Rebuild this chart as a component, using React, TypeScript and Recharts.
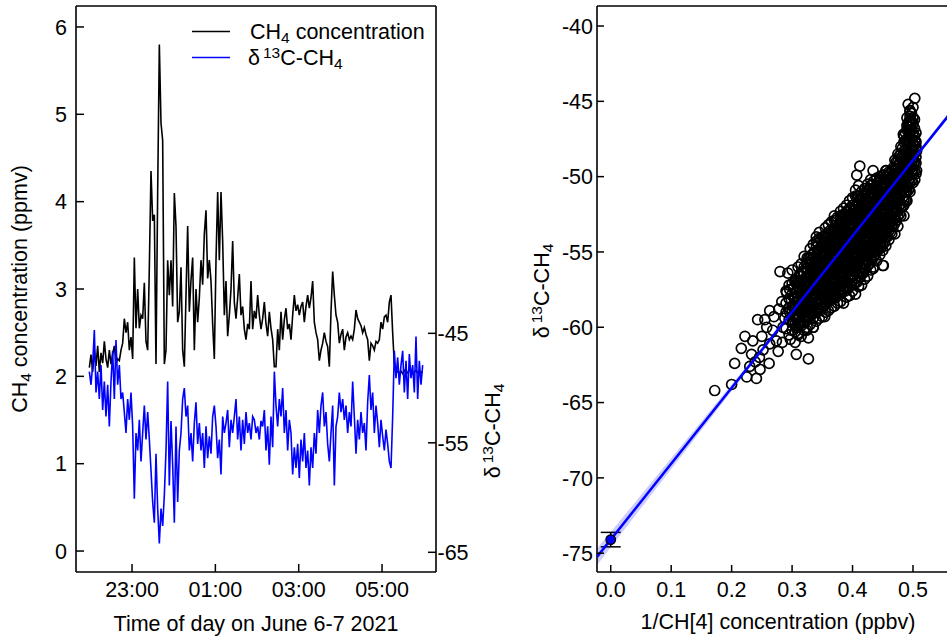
import React from "react";
import {
  LineChart,
  Line,
  XAxis,
  YAxis,
  ReferenceLine,
  ComposedChart,
  Scatter,
  Area,
  ErrorBar,
} from "recharts";

const FONT = '"Liberation Sans", Arial, Helvetica, sans-serif';
const FS = 21.5;
const SUB = 15.5;

// ---- left panel: time series, sampled every 2.4 min from 21:58 ----
const T0 = 21.975;
const STEP = 0.04;
const timeTicks = [23, 25, 27, 29];
const ch4Ticks = [0, 1, 2, 3, 4, 5, 6];
const d13Ticks = [-65, -55, -45];

const ch4Values = [
  2.1, 2.25, 2.05, 2.3, 2.12, 2.35,
  2.05, 2.27, 2.15, 2.4, 2.2, 2.1,
  2.3, 2.14, 2.25, 2.35, 2.14, 2.2,
  2.18, 2.3, 2.38, 2.66, 2.5, 2.62,
  2.3, 2.45, 2.2, 3.36, 2.55, 3.0,
  2.55, 2.7, 2.66, 3.07, 2.4, 2.3,
  3.25, 4.35, 3.78, 3.85, 2.14, 4.11,
  5.8, 4.9, 4.7, 2.14, 2.3, 3.33,
  2.93, 3.33, 2.8, 4.1, 3.72, 2.62,
  2.74, 3.25, 2.3, 2.11, 2.93, 3.72,
  2.74, 3.1, 3.36, 2.3, 3.0, 2.62,
  2.9, 3.33, 3.05, 3.63, 3.9, 3.12,
  3.33, 3.09, 2.6, 2.2, 3.33, 4.11,
  3.33, 4.11, 3.55, 2.7, 3.09, 2.46,
  2.7, 3.0, 3.55, 2.85, 2.66, 2.9,
  3.17, 2.7, 2.8, 2.54, 2.42, 2.6,
  2.54, 3.09, 2.54, 2.75, 2.66, 2.93,
  2.7, 2.54, 2.66, 2.85, 2.6, 2.46,
  2.74, 2.55, 2.42, 2.11, 2.11, 2.54,
  2.3, 2.74, 2.42, 2.65, 2.78, 2.54,
  2.6, 2.42, 2.7, 2.93, 2.75, 2.82,
  2.7, 2.8, 2.85, 2.62, 2.8, 2.93,
  2.78, 2.9, 3.09, 2.62, 2.5, 2.42,
  2.18, 2.3, 2.38, 2.5, 2.4, 2.34,
  2.11, 2.74, 3.2, 2.93, 2.7, 2.62,
  2.38, 2.48, 2.54, 2.3, 2.45, 2.5,
  2.42, 2.46, 2.42, 2.54, 2.76, 2.66,
  2.62, 2.58, 2.5, 2.56, 2.48, 2.42,
  2.18, 2.38, 2.35, 2.3, 2.4, 2.38,
  2.42, 2.62, 2.54, 2.68, 2.7, 2.62,
  2.85, 2.93, 2.5, 2.14, 2.08, 2.05,
  2.04, 2.06, 2.03, 2.07, 2.05, 2.04,
  2.08, 2.06, 2.03, 2.05, 2.07, 2.04,
  2.06, 2.05, 2.04,
];

const d13Values = [
  -48.5, -49.7, -47.9, -44.7, -50.4, -48.5,
  -51.0, -47.9, -52.0, -49.4, -52.6, -49.7,
  -53.5, -49.4, -46.6, -51.0, -45.6, -49.7,
  -47.9, -51.0, -50.4, -52.2, -54.1, -51.0,
  -52.9, -50.4, -53.5, -60.1, -54.1, -55.7,
  -52.9, -56.7, -54.1, -51.6, -54.7, -52.2,
  -54.7, -57.5, -60.4, -62.3, -56.0, -61.0,
  -64.2, -61.0, -62.6, -59.8, -55.7, -49.4,
  -58.9, -53.0, -57.0, -62.3, -53.5, -60.4,
  -55.7, -54.1, -51.0, -50.0, -52.6, -51.6,
  -55.7, -54.1, -56.7, -53.2, -51.3, -55.1,
  -53.2, -55.7, -54.1, -57.3, -53.5, -56.4,
  -54.4, -56.0, -52.6, -51.6, -53.5, -56.4,
  -54.7, -57.9, -52.6, -54.1, -53.2, -52.0,
  -55.4, -52.9, -54.1, -52.6, -51.0, -54.7,
  -52.6, -55.7, -52.9, -55.1, -52.2, -54.1,
  -53.2, -54.7, -52.6, -52.9, -54.1, -53.5,
  -54.7, -53.0, -53.5, -52.0, -55.7, -53.5,
  -57.0, -52.6, -55.4, -48.5, -51.6, -53.5,
  -51.0, -52.6, -50.0, -54.1, -52.0, -55.7,
  -52.9, -54.1, -57.9, -55.4, -57.3, -55.1,
  -58.2, -54.7, -56.7, -54.1, -57.3, -55.7,
  -58.9, -55.4, -57.3, -54.1, -56.0, -52.0,
  -54.1, -51.6, -50.4, -53.5, -52.2, -55.1,
  -56.7, -54.1, -51.6, -58.9, -53.5, -52.6,
  -50.4, -52.2, -51.0, -52.9, -51.6, -54.1,
  -52.2, -53.5, -49.4, -52.6, -56.0, -52.9,
  -54.7, -52.2, -54.1, -53.2, -55.7, -51.3,
  -48.8, -52.0, -50.4, -54.1, -51.6, -53.2,
  -55.4, -52.9, -54.4, -55.7, -53.8, -55.1,
  -56.7, -57.3, -52.6, -46.6, -49.1, -47.2,
  -49.7, -47.9, -46.6, -50.4, -47.5, -51.0,
  -46.9, -49.1, -47.9, -50.4, -45.3, -51.0,
  -47.5, -49.7, -47.9,
];

// ---- right panel: delta13C vs 1/CH4 ----
const invTicks = [0, 0.1, 0.2, 0.3, 0.4, 0.5];
const deltaTicks = [-75, -70, -65, -60, -55, -50, -45, -40];

// columns of the dense cloud: [1/CH4, list of delta values]
const cloudColumns: [number, number[]][] = [
  [0.29, [-60.1, -59.0, -58.4, -57.6]],
  [0.295, [-60.5, -59.5, -58.7, -58.1, -57.2]],
  [0.3, [-60.2, -59.7, -58.9, -58.6, -57.8, -57.1, -56.2]],
  [0.305, [-61.0, -60.3, -59.8, -59.1, -58.8, -58.1, -57.7, -56.9]],
  [0.31, [-60.5, -59.9, -59.2, -58.9, -58.3, -58.0, -57.3, -56.9, -56.0]],
  [0.315, [-60.6, -59.9, -59.6, -58.9, -58.6, -58.0, -57.7, -57.0, -56.6, -55.8]],
  [0.32, [-60.2, -59.6, -59.3, -58.7, -58.4, -57.8, -57.5, -57.1, -56.4, -56.0, -55.3]],
  [0.325, [-60.0, -59.5, -58.9, -58.6, -58.1, -57.9, -57.3, -57.0, -56.3, -56.1, -55.4]],
  [0.33, [-59.8, -59.1, -58.8, -58.3, -58.1, -57.5, -57.3, -56.7, -56.4, -55.7, -55.4, -54.8]],
  [0.335, [-60.0, -59.4, -58.7, -58.5, -57.9, -57.7, -57.1, -56.9, -56.3, -56.1, -55.4, -55.1, -54.5]],
  [0.34, [-59.6, -59.0, -58.7, -58.1, -57.9, -57.3, -57.1, -56.5, -56.3, -55.7, -55.4, -54.7, -54.3]],
  [0.345, [-59.4, -58.9, -58.3, -58.1, -57.5, -57.3, -56.7, -56.5, -55.9, -55.7, -55.1, -54.8, -54.1, -53.7]],
  [0.35, [-59.3, -58.6, -58.3, -57.7, -57.5, -56.9, -56.7, -56.1, -55.9, -55.3, -55.1, -54.5, -54.0]],
  [0.355, [-59.0, -58.4, -58.1, -57.5, -57.3, -56.7, -56.5, -55.9, -55.7, -55.1, -54.9, -54.3, -54.1, -53.4]],
  [0.36, [-58.9, -58.2, -57.9, -57.3, -57.1, -56.5, -56.3, -55.7, -55.5, -54.9, -54.7, -54.1, -53.9, -53.2]],
  [0.365, [-58.7, -58.0, -57.7, -57.1, -56.9, -56.3, -56.1, -55.5, -55.3, -54.7, -54.5, -53.9, -53.7, -53.0]],
  [0.37, [-58.6, -57.9, -57.6, -56.9, -56.7, -56.1, -55.9, -55.3, -55.1, -54.5, -54.3, -53.7, -53.5, -52.9, -52.6]],
  [0.375, [-58.4, -57.7, -57.4, -56.8, -56.6, -56.0, -55.8, -55.2, -55.0, -54.4, -54.2, -53.6, -53.4, -52.7]],
  [0.38, [-58.3, -57.6, -57.3, -56.7, -56.5, -55.9, -55.7, -55.1, -54.9, -54.3, -54.1, -53.5, -53.3, -52.6, -52.3]],
  [0.385, [-58.4, -57.5, -57.1, -56.5, -56.3, -55.7, -55.5, -54.9, -54.7, -54.1, -53.9, -53.3, -53.1, -52.5, -52.1]],
  [0.39, [-58.0, -57.3, -57.0, -56.3, -56.1, -55.5, -55.3, -54.7, -54.5, -53.9, -53.7, -53.1, -52.9, -52.3, -51.9]],
  [0.395, [-57.9, -57.1, -56.8, -56.1, -55.9, -55.3, -55.1, -54.5, -54.3, -53.7, -53.5, -52.9, -52.7, -52.1, -51.6]],
  [0.4, [-57.6, -56.9, -56.6, -55.9, -55.7, -55.1, -54.9, -54.3, -54.1, -53.5, -53.3, -52.7, -52.5, -51.9, -51.4]],
  [0.405, [-57.8, -57.0, -56.3, -56.0, -55.4, -55.2, -54.6, -54.4, -53.8, -53.6, -53.0, -52.8, -52.2, -52.0, -51.3, -50.9]],
  [0.41, [-57.3, -56.6, -56.3, -55.6, -55.4, -54.8, -54.6, -54.0, -53.8, -53.2, -53.0, -52.4, -52.2, -51.6, -51.3, -50.6]],
  [0.415, [-57.2, -56.4, -56.1, -55.4, -55.2, -54.6, -54.4, -53.8, -53.6, -53.0, -52.8, -52.2, -52.0, -51.4, -51.0]],
  [0.42, [-56.8, -56.1, -55.8, -55.2, -55.0, -54.4, -54.2, -53.6, -53.4, -52.8, -52.6, -52.0, -51.8, -51.2, -50.8]],
  [0.425, [-56.6, -55.9, -55.6, -55.0, -54.8, -54.2, -54.0, -53.4, -53.2, -52.6, -52.4, -51.8, -51.6, -50.9, -50.5]],
  [0.43, [-56.2, -55.5, -55.3, -54.7, -54.5, -53.9, -53.7, -53.1, -52.9, -52.3, -52.1, -51.5, -51.3, -50.6, -50.2]],
  [0.435, [-56.0, -55.3, -55.0, -54.4, -54.2, -53.6, -53.4, -52.8, -52.6, -52.0, -51.8, -51.2, -50.9, -50.3]],
  [0.44, [-55.6, -54.9, -54.7, -54.1, -53.9, -53.3, -53.1, -52.5, -52.3, -51.7, -51.5, -50.9, -50.6, -50.1]],
  [0.445, [-55.2, -54.6, -54.4, -53.8, -53.6, -53.0, -52.8, -52.2, -52.0, -51.4, -51.2, -50.6, -50.2]],
  [0.45, [-55.9, -54.9, -54.5, -53.9, -53.7, -53.1, -52.9, -52.3, -52.1, -51.5, -51.3, -50.7, -50.4, -49.9]],
  [0.455, [-54.6, -54.0, -53.8, -53.2, -53.0, -52.4, -52.2, -51.6, -51.4, -50.8, -50.6, -50.0, -49.6]],
  [0.46, [-54.2, -53.6, -53.4, -52.8, -52.6, -52.0, -51.8, -51.2, -51.0, -50.4, -50.2, -49.7]],
  [0.465, [-53.8, -53.2, -53.0, -52.4, -52.2, -51.6, -51.4, -50.8, -50.6, -50.0, -49.6]],
  [0.47, [-53.8, -53.1, -52.8, -52.2, -52.0, -51.4, -51.2, -50.6, -50.4, -49.8, -49.5, -48.9]],
  [0.475, [-53.3, -52.6, -52.3, -51.7, -51.5, -50.9, -50.7, -50.1, -49.9, -49.3, -49.0, -48.5]],
  [0.48, [-52.6, -52.0, -51.8, -51.2, -51.0, -50.4, -50.2, -49.6, -49.4, -48.8, -48.5, -48.0]],
  [0.485, [-52.6, -51.9, -51.6, -51.0, -50.7, -50.1, -49.9, -49.3, -49.1, -48.5, -48.3, -47.7, -47.3]],
  [0.49, [-51.6, -51.0, -50.7, -50.1, -49.9, -49.3, -49.1, -48.5, -48.3, -47.7, -47.5, -46.9, -46.6, -46.1]],
  [0.495, [-51.0, -50.4, -50.1, -49.5, -49.3, -48.7, -48.5, -47.9, -47.7, -47.1, -46.9, -46.3, -46.0, -45.6]],
  [0.5, [-50.4, -49.8, -49.5, -48.9, -48.7, -48.1, -47.9, -47.3, -47.1, -46.5, -46.1, -45.4]],
  [0.505, [-49.8, -49.1, -48.7, -48.0, -47.7, -47.1]],
];

// points in between the columns, inside the core of the cloud
const coreColumns: [number, number[]][] = [
  [0.3025, [-59.7, -59.2, -58.6, -58.0, -57.4]],
  [0.3075, [-60.0, -59.4, -58.9, -58.3, -57.7, -57.1]],
  [0.3125, [-59.8, -59.3, -58.7, -58.1, -57.6, -57.0, -56.5]],
  [0.3175, [-59.7, -59.1, -58.5, -58.0, -57.4, -56.9, -56.3]],
  [0.3225, [-59.5, -58.9, -58.4, -57.8, -57.2, -56.7, -56.1]],
  [0.3275, [-59.3, -58.7, -58.2, -57.6, -57.0, -56.5, -55.9, -55.4]],
  [0.3325, [-59.2, -58.6, -58.0, -57.5, -56.9, -56.3, -55.8, -55.2]],
  [0.3375, [-59.0, -58.4, -57.9, -57.3, -56.7, -56.2, -55.6, -55.0]],
  [0.3425, [-58.9, -58.3, -57.7, -57.2, -56.6, -56.0, -55.5, -54.9, -54.4]],
  [0.3475, [-58.7, -58.1, -57.5, -57.0, -56.4, -55.8, -55.3, -54.7, -54.2]],
  [0.3525, [-58.6, -58.0, -57.4, -56.9, -56.3, -55.7, -55.2, -54.6, -54.0]],
  [0.3575, [-58.4, -57.8, -57.2, -56.7, -56.1, -55.5, -55.0, -54.4, -53.8]],
  [0.3625, [-58.2, -57.6, -57.0, -56.5, -55.9, -55.3, -54.8, -54.2, -53.6]],
  [0.3675, [-58.1, -57.5, -56.9, -56.4, -55.8, -55.2, -54.7, -54.1, -53.5]],
  [0.3725, [-58.0, -57.4, -56.8, -56.2, -55.7, -55.1, -54.5, -54.0, -53.4, -52.9]],
  [0.3775, [-57.8, -57.2, -56.6, -56.1, -55.5, -54.9, -54.4, -53.8, -53.2]],
  [0.3825, [-57.7, -57.1, -56.5, -56.0, -55.4, -54.8, -54.3, -53.7, -53.1, -52.6]],
  [0.3875, [-57.6, -57.0, -56.4, -55.9, -55.3, -54.7, -54.2, -53.6, -53.0, -52.5]],
  [0.3925, [-57.4, -56.8, -56.2, -55.7, -55.1, -54.5, -54.0, -53.4, -52.8, -52.3]],
  [0.3975, [-57.2, -56.6, -56.0, -55.5, -54.9, -54.3, -53.8, -53.2, -52.6, -52.1]],
  [0.4025, [-57.1, -56.5, -55.9, -55.4, -54.8, -54.2, -53.7, -53.1, -52.5, -52.0]],
  [0.4075, [-57.0, -56.4, -55.8, -55.2, -54.7, -54.1, -53.5, -53.0, -52.4, -51.8, -51.3]],
  [0.4125, [-56.7, -56.1, -55.5, -55.0, -54.4, -53.8, -53.3, -52.7, -52.1, -51.5]],
  [0.4175, [-56.4, -55.8, -55.3, -54.7, -54.1, -53.6, -53.0, -52.4, -51.9, -51.3]],
  [0.4225, [-56.1, -55.5, -55.0, -54.4, -53.8, -53.3, -52.7, -52.1, -51.6, -51.0]],
  [0.4275, [-55.8, -55.2, -54.7, -54.1, -53.5, -53.0, -52.4, -51.8, -51.3, -50.8]],
  [0.4325, [-55.5, -54.9, -54.4, -53.8, -53.2, -52.7, -52.1, -51.5, -51.0, -50.5]],
  [0.4375, [-55.2, -54.6, -54.1, -53.5, -52.9, -52.4, -51.8, -51.2, -50.7]],
  [0.4425, [-54.8, -54.3, -53.7, -53.1, -52.6, -52.0, -51.4, -50.9, -50.4]],
  [0.4475, [-54.7, -54.1, -53.6, -53.0, -52.4, -51.9, -51.3, -50.7, -50.2]],
  [0.4525, [-54.4, -53.8, -53.3, -52.7, -52.1, -51.6, -51.0, -50.4, -49.9]],
  [0.4575, [-54.0, -53.4, -52.9, -52.3, -51.7, -51.2, -50.6, -50.0]],
  [0.4625, [-53.7, -53.1, -52.6, -52.0, -51.4, -50.9, -50.3, -49.8]],
  [0.4675, [-53.3, -52.7, -52.2, -51.6, -51.0, -50.5, -49.9, -49.4]],
  [0.4725, [-52.9, -52.3, -51.8, -51.2, -50.6, -50.1, -49.5, -49.0]],
  [0.4775, [-52.5, -51.9, -51.4, -50.8, -50.2, -49.7, -49.1, -48.6]],
  [0.4825, [-52.0, -51.4, -50.9, -50.3, -49.7, -49.2, -48.6, -48.1]],
  [0.4875, [-51.6, -51.0, -50.5, -49.9, -49.3, -48.8, -48.2, -47.6, -47.1]],
  [0.4925, [-50.9, -50.3, -49.8, -49.2, -48.6, -48.1, -47.5, -46.9, -46.4]],
  [0.4975, [-50.3, -49.7, -49.2, -48.6, -48.0, -47.5, -46.9, -46.3, -45.8]],
  [0.5025, [-49.6, -49.0, -48.5, -47.9, -47.3, -46.8, -46.2]],
];

// scattered points outside the dense core: [1/CH4, delta]
const sparsePoints: [number, number][] = [
  [0.172, -64.2], [0.2, -63.8], [0.225, -63.3], [0.241, -63.4], [0.205, -62.4],
  [0.216, -61.4], [0.222, -60.6], [0.235, -60.9], [0.233, -61.8], [0.247, -62.8],
  [0.243, -59.5], [0.255, -59.5], [0.263, -58.9], [0.28, -56.3], [0.293, -56.4],
  [0.283, -58.3], [0.291, -57.7], [0.307, -61.8], [0.327, -62.1], [0.327, -60.7],
  [0.277, -61.6], [0.263, -61.1], [0.268, -60.2], [0.258, -60.0], [0.274, -60.9],
  [0.252, -61.5], [0.239, -62.3], [0.23, -62.6], [0.324, -55.7], [0.305, -57.0],
  [0.296, -57.5], [0.34, -54.0], [0.351, -54.4], [0.34, -55.2], [0.335, -56.0],
  [0.346, -56.4], [0.354, -59.3], [0.335, -60.0], [0.324, -60.2], [0.31, -60.4],
  [0.285, -60.0], [0.288, -59.4], [0.296, -59.0], [0.301, -59.3], [0.313, -59.7],
  [0.318, -58.9], [0.31, -58.0], [0.321, -57.3], [0.329, -56.6], [0.246, -62.0],
  [0.27, -59.3], [0.278, -58.8], [0.25, -60.6], [0.262, -62.4], [0.284, -61.0],
  [0.297, -60.8],
  [0.503, -44.8], [0.492, -45.2], [0.495, -45.7], [0.497, -46.5], [0.492, -46.7],
  [0.484, -47.2], [0.495, -47.4], [0.503, -47.6], [0.506, -48.3], [0.503, -49.0],
  [0.506, -49.6], [0.503, -50.2], [0.412, -49.3], [0.407, -49.9], [0.434, -49.6],
  [0.456, -49.6], [0.462, -50.2], [0.445, -50.0], [0.451, -55.9], [0.434, -56.1],
  [0.442, -54.9],
];

// Keeling fit: intercept, slope and confidence half width
const fitIntercept = -74.1;
const fitSlope = 50.4;
const bandX = [-0.0227, 0, 0.1, 0.2, 0.3, 0.4, 0.5, 0.5728];
const bandHalf = [0.55, 0.5, 0.36, 0.22, 0.12, 0.08, 0.12, 0.17];
const interceptPoint = [{ x: 0, y: -74.1, err: 0.48 }];

// ---- derived tables ----
const series = ch4Values.map((v, i) => ({ t: T0 + i * STEP, ch4: v, d13: d13Values[i] }));
const cloud = [
  ...cloudColumns.flatMap(([x, ys]) => ys.map((y) => ({ x, y }))),
  ...coreColumns.flatMap(([x, ys]) => ys.map((y) => ({ x, y }))),
  ...sparsePoints.map(([x, y]) => ({ x, y })),
];
const fitBand = bandX.map((x, i) => {
  const c = fitIntercept + fitSlope * x;
  return { x, band: [c - bandHalf[i], c + bandHalf[i]] };
});
const fitLine = [bandX[0], bandX[bandX.length - 1]].map((x) => ({ x, y: fitIntercept + fitSlope * x }));

// ---- axis ranges ----
const T_DOMAIN: [number, number] = [21.655, 30.295];
const CH4_DOMAIN: [number, number] = [-0.24, 6.24];
const D13_DOMAIN: [number, number] = [-66.8, -15.1];
const INV_DOMAIN: [number, number] = [-0.0227, 0.5728];
const DELTA_DOMAIN: [number, number] = [-76.25, -38.67];

const AXIS = { stroke: "#000", strokeWidth: 1.6 };
const txt = { fontFamily: FONT, fontSize: FS, fill: "#000" };

type Orient = "left" | "right" | "bottom";
const makeTick =
  (orient: Orient, margin: number, len: number, fmt: (v: number) => string) =>
  (props: any) => {
    const { x, y, payload } = props;
    const label = fmt(payload.value);
    if (orient === "left") {
      const ax = x + margin;
      return (
        <g>
          <line x1={ax} x2={ax + len} y1={y} y2={y} stroke="#000" strokeWidth={1.5} />
          <text x={x} y={y} dy="0.36em" textAnchor="end" {...txt}>{label}</text>
        </g>
      );
    }
    if (orient === "right") {
      const ax = x - margin;
      return (
        <g>
          <line x1={ax - len} x2={ax} y1={y} y2={y} stroke="#000" strokeWidth={1.5} />
          <text x={x} y={y} dy="0.36em" textAnchor="start" {...txt}>{label}</text>
        </g>
      );
    }
    const ay = y - margin;
    return (
      <g>
        <line x1={x} x2={x} y1={ay - len} y2={ay} stroke="#000" strokeWidth={1.5} />
        <text x={x} y={y} dy="0.71em" textAnchor="middle" {...txt}>{label}</text>
      </g>
    );
  };

const clock = (v: number) => `${String(v % 24).padStart(2, "0")}:00`;
const timeTick = makeTick("bottom", 10, 8, clock);
const ch4Tick = makeTick("left", 9, 8, (v) => String(v));
const d13Tick = makeTick("right", 1.5, 8, (v) => String(v));
const invTick = makeTick("bottom", 10, 7, (v) => v.toFixed(1));
const deltaTick = makeTick("left", 4, 7, (v) => String(v));

const Delta = ({ x, y, vertical }: { x: number; y: number; vertical?: boolean }) => (
  <text
    transform={`translate(${x},${y})${vertical ? " rotate(-90)" : ""}`}
    textAnchor={vertical ? "middle" : "start"}
    {...txt}
  >
    δ
    <tspan dx={3} dy={-7} fontSize={SUB}>13</tspan>
    <tspan dy={7}>C-CH</tspan>
    <tspan dy={4} fontSize={SUB}>4</tspan>
  </text>
);

const circle = (props: any) => (
  <circle cx={props.cx} cy={props.cy} r={5} fill="none" stroke="#000" strokeWidth={1.7} />
);
const dotFilled = (props: any) => (
  <circle cx={props.cx} cy={props.cy} r={4.8} fill="#0000FF" stroke="#000" strokeWidth={1.2} />
);
const noDot = () => <g />;

export default function App() {
  return (
    <div
      style={{
        position: "absolute",
        left: 0,
        top: 0,
        width: 947,
        height: 638,
        overflow: "hidden",
        background: "#fff",
      }}
    >
      <div style={{ position: "absolute", left: 0, top: 0 }}>
        <LineChart width={516} height={638} data={series} margin={{ top: 6, right: 0, bottom: 0, left: 0 }}>
          <XAxis
            dataKey="t"
            type="number"
            domain={T_DOMAIN}
            allowDataOverflow
            ticks={timeTicks}
            interval={0}
            height={66}
            tickSize={0}
            tickMargin={10}
            tickLine={false}
            axisLine={AXIS}
            tick={timeTick}
          />
          <YAxis
            yAxisId="ch4"
            type="number"
            domain={CH4_DOMAIN}
            allowDataOverflow
            ticks={ch4Ticks}
            interval={0}
            width={76}
            tickSize={0}
            tickMargin={9}
            tickLine={false}
            axisLine={AXIS}
            tick={ch4Tick}
          />
          <YAxis
            yAxisId="d13"
            orientation="right"
            type="number"
            domain={D13_DOMAIN}
            allowDataOverflow
            ticks={d13Ticks}
            interval={0}
            width={80}
            tickSize={0}
            tickMargin={1.5}
            tickLine={false}
            axisLine={AXIS}
            tick={d13Tick}
          />
          <ReferenceLine yAxisId="ch4" y={CH4_DOMAIN[1]} stroke="#000" strokeWidth={1.6} />
          <Line
            yAxisId="ch4"
            dataKey="ch4"
            type="linear"
            stroke="#000"
            strokeWidth={1.6}
            dot={false}
            isAnimationActive={false}
          />
          <Line
            yAxisId="d13"
            dataKey="d13"
            type="linear"
            stroke="#0000FF"
            strokeWidth={1.6}
            dot={false}
            isAnimationActive={false}
          />
        </LineChart>
      </div>

      <div style={{ position: "absolute", left: 520, top: 0 }}>
        <ComposedChart width={437} height={638} margin={{ top: 6, right: 0, bottom: 0, left: 0 }}>
          <XAxis
            dataKey="x"
            type="number"
            domain={INV_DOMAIN}
            allowDataOverflow
            ticks={invTicks}
            interval={0}
            height={66}
            tickSize={0}
            tickMargin={10}
            tickLine={false}
            axisLine={AXIS}
            tick={invTick}
          />
          <YAxis
            type="number"
            domain={DELTA_DOMAIN}
            allowDataOverflow
            ticks={deltaTicks}
            interval={0}
            width={77}
            tickSize={0}
            tickMargin={4}
            tickLine={false}
            axisLine={AXIS}
            tick={deltaTick}
          />
          <ReferenceLine y={DELTA_DOMAIN[1]} stroke="#000" strokeWidth={1.6} />
          <Area
            data={fitBand}
            dataKey="band"
            type="linear"
            stroke="none"
            fill="#0000FF"
            fillOpacity={0.2}
            isAnimationActive={false}
          />
          <Scatter data={cloud} dataKey="y" shape={circle} isAnimationActive={false} />
          {/* fit line drawn as a scatter path so it sits above the cloud */}
          <Scatter
            data={fitLine}
            dataKey="y"
            shape={noDot}
            line={{ stroke: "#0000FF", strokeWidth: 2.5 }}
            isAnimationActive={false}
          />
          <Scatter data={interceptPoint} dataKey="y" shape={dotFilled} isAnimationActive={false}>
            <ErrorBar dataKey="err" direction="y" width={10} stroke="#000" strokeWidth={1.5} />
          </Scatter>
        </ComposedChart>
      </div>

      <svg width={947} height={638} style={{ position: "absolute", left: 0, top: 0, pointerEvents: "none" }}>
        {/* legend */}
        <line x1={192} x2={230} y1={31.5} y2={31.5} stroke="#000" strokeWidth={1.5} />
        <text x={250} y={38.5} {...txt}>
          CH
          <tspan dy={4} fontSize={SUB}>4</tspan>
          <tspan dy={-4}>{" concentration"}</tspan>
        </text>
        <line x1={192} x2={230} y1={57.5} y2={57.5} stroke="#0000FF" strokeWidth={1.5} />
        <Delta x={248} y={65} />

        {/* axis titles */}
        <text transform="translate(27,289) rotate(-90)" textAnchor="middle" {...txt}>
          CH
          <tspan dy={4} fontSize={SUB}>4</tspan>
          <tspan dy={-4}>{" concentration (ppmv)"}</tspan>
        </text>
        <Delta x={500} y={431} vertical />
        <text x={256} y={631} textAnchor="middle" {...txt}>
          Time of day on June 6-7 2021
        </text>

        <Delta x={549} y={291} vertical />
        <text x={778} y={629} textAnchor="middle" {...txt}>
          1/CH[4] concentration (ppbv)
        </text>
      </svg>
    </div>
  );
}
